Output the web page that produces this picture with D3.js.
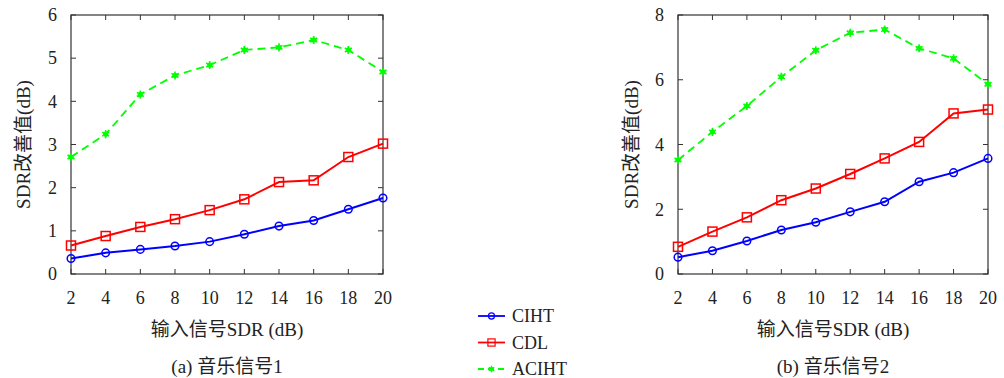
<!DOCTYPE html>
<html>
<head>
<meta charset="utf-8">
<script src="https://cdn.jsdelivr.net/npm/d3@7.9.0/dist/d3.min.js"></script>
<style>
  body { margin: 0; background: #fff; }
  svg text { font-family: "Liberation Serif", "Times New Roman", "Noto Sans CJK SC", serif; }
</style>
</head>
<body>
<div id="chart"></div>
<script>
// x axis: input SDR (dB)
const snr = [2, 4, 6, 8, 10, 12, 14, 16, 18, 20];

// (a) music signal 1
const a_ciht  = [0.36, 0.49, 0.57, 0.65, 0.75, 0.92, 1.11, 1.24, 1.50, 1.76];
const a_cdl   = [0.66, 0.88, 1.09, 1.27, 1.48, 1.73, 2.13, 2.17, 2.71, 3.02];
const a_aciht = [2.71, 3.24, 4.16, 4.60, 4.84, 5.19, 5.25, 5.42, 5.19, 4.68];

// (b) music signal 2
const b_ciht  = [0.52, 0.72, 1.02, 1.36, 1.60, 1.92, 2.23, 2.85, 3.13, 3.57];
const b_cdl   = [0.84, 1.31, 1.75, 2.28, 2.64, 3.09, 3.57, 4.08, 4.96, 5.08];
const b_aciht = [3.52, 4.39, 5.19, 6.09, 6.91, 7.45, 7.55, 6.97, 6.66, 5.86];

const seriesNames = ["CIHT", "CDL", "ACIHT"];
const yTicksA = [0, 1, 2, 3, 4, 5, 6];
const yTicksB = [0, 2, 4, 6, 8];

const W = 1004, H = 378;
const colors = { CIHT: "#0000ff", CDL: "#ff0000", ACIHT: "#00ff00" };

const svg = d3.select("#chart").append("svg")
    .attr("width", W).attr("height", H);

// draw one marker at (0,0) inside g
function marker(g, name) {
    if (name === "CIHT") {
        g.append("circle").attr("r", 3.8)
            .attr("fill", "none").attr("stroke", colors[name]).attr("stroke-width", 1.5);
    } else if (name === "CDL") {
        g.append("rect").attr("x", -4.5).attr("y", -4.5).attr("width", 9).attr("height", 9)
            .attr("fill", "none").attr("stroke", colors[name]).attr("stroke-width", 1.5);
    } else {
        // small asterisk with a filled core
        g.append("path").attr("d", d3.symbol(d3.symbolAsterisk, 45)())
            .attr("fill", "none").attr("stroke", colors[name]).attr("stroke-width", 1.6);
        g.append("circle").attr("r", 2.2)
            .attr("fill", colors[name]).attr("stroke", colors[name]);
    }
}

function panel(opts) {
    const { left, right, top, bottom, yMax, yTicks, data, caption, ylabX } = opts;
    const x = d3.scaleLinear().domain([2, 20]).range([left, right]);
    const y = d3.scaleLinear().domain([0, yMax]).range([bottom, top]);
    const g = svg.append("g");

    // box
    g.append("rect").attr("x", left).attr("y", top)
        .attr("width", right - left).attr("height", bottom - top)
        .attr("fill", "none").attr("stroke", "#333").attr("stroke-width", 1.2);

    // ticks (inward on all sides)
    const tick = 5;
    snr.forEach(v => {
        g.append("line").attr("x1", x(v)).attr("x2", x(v)).attr("y1", bottom).attr("y2", bottom - tick)
            .attr("stroke", "#333");
        g.append("line").attr("x1", x(v)).attr("x2", x(v)).attr("y1", top).attr("y2", top + tick)
            .attr("stroke", "#333");
        g.append("text").attr("x", x(v)).attr("y", bottom + 30)
            .attr("text-anchor", "middle").attr("font-size", 18).attr("fill", "#222").text(v);
    });
    yTicks.forEach(v => {
        g.append("line").attr("x1", left).attr("x2", left + tick).attr("y1", y(v)).attr("y2", y(v))
            .attr("stroke", "#333");
        g.append("line").attr("x1", right).attr("x2", right - tick).attr("y1", y(v)).attr("y2", y(v))
            .attr("stroke", "#333");
        g.append("text").attr("x", left - 14).attr("y", y(v)).attr("dy", "0.35em")
            .attr("text-anchor", "end").attr("font-size", 18).attr("fill", "#222").text(v);
    });

    // series lines
    const line = d3.line().x((d, i) => x(snr[i])).y(d => y(d));
    seriesNames.forEach((name, k) => {
        const vals = data[k];
        g.append("path").datum(vals).attr("d", line)
            .attr("fill", "none").attr("stroke", colors[name])
            .attr("stroke-width", name === "ACIHT" ? 1.8 : 2)
            .attr("stroke-dasharray", name === "ACIHT" ? "8,5" : null);
        vals.forEach((v, i) => {
            const m = g.append("g").attr("transform", `translate(${x(snr[i])},${y(v)})`);
            marker(m, name);
        });
    });

    // axis labels
    const cx = (left + right) / 2;
    g.append("text").attr("x", cx).attr("y", bottom + 62)
        .attr("text-anchor", "middle").attr("font-size", 19).attr("fill", "#222")
        .text("输入信号SDR (dB)");
    g.append("text").attr("x", cx).attr("y", bottom + 99)
        .attr("text-anchor", "middle").attr("font-size", 19).attr("fill", "#222")
        .text(caption);
    g.append("text")
        .attr("transform", `translate(${ylabX},${(top + bottom) / 2}) rotate(-90)`)
        .attr("text-anchor", "middle").attr("font-size", 19).attr("fill", "#222")
        .text("SDR改善值(dB)");
}

panel({ left: 71, right: 383, top: 15, bottom: 274, yMax: 6, yTicks: yTicksA,
        data: [a_ciht, a_cdl, a_aciht], caption: "(a) 音乐信号1", ylabX: 30 });
panel({ left: 678, right: 988, top: 15, bottom: 274, yMax: 8, yTicks: yTicksB,
        data: [b_ciht, b_cdl, b_aciht], caption: "(b) 音乐信号2", ylabX: 638 });

// legend
const lg = svg.append("g");
seriesNames.forEach((name, i) => {
    const ly = 316 + i * 26.5;
    lg.append("line").attr("x1", 478).attr("x2", 505).attr("y1", ly).attr("y2", ly)
        .attr("stroke", colors[name]).attr("stroke-width", 1.8)
        .attr("stroke-dasharray", name === "ACIHT" ? "6,4" : null);
    const m = lg.append("g").attr("transform", `translate(491.5,${ly}) scale(0.8)`);
    marker(m, name);
    lg.append("text").attr("x", 512).attr("y", ly).attr("dy", "0.35em")
        .attr("font-size", 18).attr("fill", "#222").text(name);
});
</script>
</body>
</html>
